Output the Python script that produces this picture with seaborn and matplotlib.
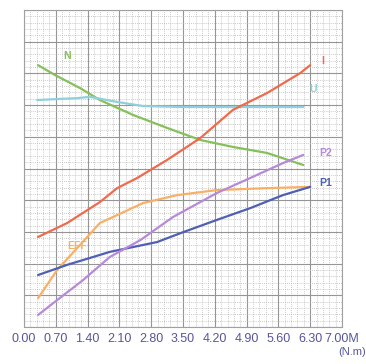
import numpy as np
import pandas as pd
import matplotlib
matplotlib.use("Agg")
import matplotlib.pyplot as plt
from matplotlib.ticker import MultipleLocator
import seaborn as sns

# ---- data (y in grid units 0-10) ----
n_x = [0.31, 0.68, 1.23, 1.67, 2.40, 3.15, 3.88, 4.60, 5.35, 6.15]
n_y = [8.26, 7.95, 7.54, 7.16, 6.69, 6.28, 5.90, 5.68, 5.49, 5.11]

u_x = [0.29, 1.17, 1.45, 2.05, 2.62, 3.50, 6.15]
u_y = [7.16, 7.22, 7.26, 7.10, 6.97, 6.94, 6.94]

i_x = [0.31, 0.95, 1.67, 2.05, 2.49, 3.15, 3.88, 4.60, 5.35, 6.08, 6.30]
i_y = [2.84, 3.28, 3.94, 4.38, 4.70, 5.27, 5.96, 6.85, 7.38, 8.01, 8.26]

eff_x = [0.31, 0.73, 1.17, 1.67, 2.05, 2.62, 3.37, 4.25, 5.35, 6.30]
eff_y = [0.91, 1.80, 2.49, 3.28, 3.53, 3.91, 4.16, 4.32, 4.38, 4.42]

p1_x = [0.31, 0.95, 1.89, 2.93, 3.50, 4.25, 4.98, 5.70, 6.30]
p1_y = [1.64, 1.96, 2.37, 2.68, 2.99, 3.38, 3.75, 4.16, 4.42]

p2_x = [0.31, 0.73, 1.30, 1.89, 2.56, 3.28, 4.25, 4.98, 5.70, 6.15]
p2_y = [0.38, 0.85, 1.48, 2.21, 2.74, 3.47, 4.23, 4.70, 5.17, 5.43]

tick_vals = [0.0, 0.7, 1.4, 2.1, 2.8, 3.5, 4.2, 4.9, 5.6, 6.3, 7.0]
tick_labels = ["0.00", "0.70", "1.40", "2.10", "2.80", "3.50", "4.20",
               "4.90", "5.60", "6.30", "7.00M"]

series = {
    "N": (n_x, n_y),
    "U": (u_x, u_y),
    "I": (i_x, i_y),
    "EFF": (eff_x, eff_y),
    "P1": (p1_x, p1_y),
    "P2": (p2_x, p2_y),
}
colors = {
    "N": "#86c05a",
    "U": "#8fd0dc",
    "I": "#f06a4c",
    "EFF": "#f7b066",
    "P1": "#4f5fb4",
    "P2": "#b68ad8",
}

rows = []
for name, (xs, ys) in series.items():
    for k, (xv, yv) in enumerate(zip(xs, ys)):
        rows.append({"series": name, "x": xv, "y": yv, "order": k})
df = pd.DataFrame(rows)

sns.set_style("white")
plt.rcParams["font.family"] = ["Liberation Sans", "DejaVu Sans"]

fig = plt.figure(figsize=(3.66, 3.64), dpi=100)
ax = fig.add_axes([24 / 366, 1 - 327 / 364, 318 / 366, 317 / 364])

sns.lineplot(data=df, x="x", y="y", hue="series", palette=colors,
             sort=False, estimator=None, units="series", legend=False,
             linewidth=1.6, ax=ax)

ax.set_xlim(0, 7)
ax.set_ylim(0, 10)
ax.xaxis.set_minor_locator(MultipleLocator(0.14))
ax.yaxis.set_major_locator(MultipleLocator(1))
ax.yaxis.set_minor_locator(MultipleLocator(0.2))
ax.set_xticks(tick_vals)
ax.set_xticklabels(tick_labels)
ax.set_yticklabels([])
ax.tick_params(axis="both", which="both", length=0)
ax.tick_params(axis="x", labelsize=9, labelcolor="#55569c", pad=4)
ax.grid(True, which="major", color="#959595", linewidth=0.8)
ax.grid(True, which="minor", color="#b8b8b8", linewidth=0.6, linestyle=(0, (1, 1.5)))
ax.set_axisbelow(True)
for s in ax.spines.values():
    s.set_color("#a0a0a0")
    s.set_linewidth(0.8)
ax.set_xlabel("")
ax.set_ylabel("")

# series labels
lab = dict(fontsize=7.5, fontweight="bold")
ax.text(0.86, 8.45, "N", color=colors["N"], **lab)
ax.text(6.55, 8.3, "I", color=colors["I"], **lab)
ax.text(6.28, 7.4, "U", color=colors["U"], **lab)
ax.text(6.5, 5.4, "P2", color=colors["P2"], **lab)
ax.text(6.5, 4.45, "P1", color=colors["P1"], **lab)
ax.text(0.95, 2.45, "EFF", color=colors["EFF"], **lab)

fig.text(352 / 366, 1 - 352 / 364, "(N.m)", color="#55569c", fontsize=8,
         ha="center", va="center")

fig.savefig("out.png", dpi=100)
